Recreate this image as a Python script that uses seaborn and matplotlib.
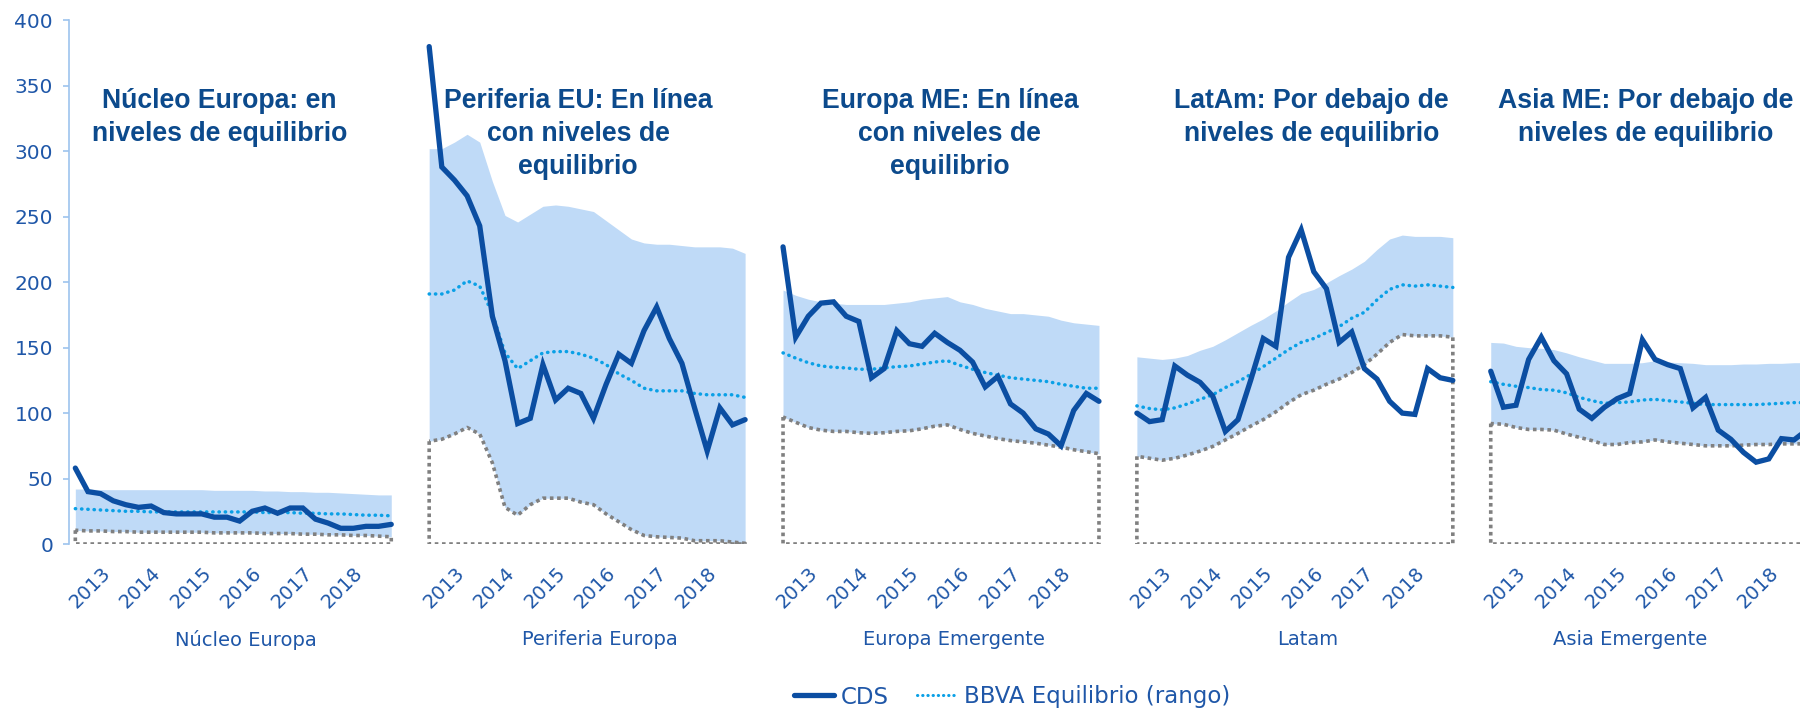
import numpy as np
import pandas as pd
import seaborn as sns
import matplotlib
matplotlib.use("Agg")
import matplotlib.pyplot as plt
from matplotlib.lines import Line2D

# categorias y textos
regions = ["Núcleo Europa", "Periferia Europa", "Europa Emergente", "Latam", "Asia Emergente"]
titles = ["Núcleo Europa: en\nniveles de equilibrio",
          "Periferia EU: En línea\ncon niveles de\nequilibrio",
          "Europa ME: En línea\ncon niveles de\nequilibrio",
          "LatAm: Por debajo de\nniveles de equilibrio",
          "Asia ME: Por debajo de\nniveles de equilibrio"]
years = ["2013", "2014", "2015", "2016", "2017", "2018"]
periods = pd.period_range("2012Q3", "2018Q4", freq="Q").astype(str)

# Nucleo Europa
nucleo_cds = [58, 40, 38.5, 33, 30, 28, 29, 24, 23, 23, 23, 20.5, 20.5, 17.5, 25, 27.5, 23.5, 27.5, 27.5, 19, 16, 12, 12, 13.5, 13.5, 15]
nucleo_eq = [27, 26.5, 26, 25.5, 25, 25, 24.5, 24.5, 24.5, 24.5, 24.5, 24.5, 24.5, 24.5, 24.5, 24, 24, 24, 23.5, 23.5, 23, 23, 22.5, 22, 22, 21.5]
nucleo_lo = [10.5, 10, 10, 9.5, 9.5, 9, 9, 9, 9, 9, 9, 8.5, 8.5, 8.5, 8.5, 8, 8, 8, 7.5, 7.5, 7, 7, 6.5, 6.5, 6, 5.5]
nucleo_hi = [42, 42, 41.5, 41.5, 41.5, 41.5, 41.5, 41.5, 41.5, 41.5, 41.5, 41, 41, 41, 41, 40.5, 40.5, 40, 40, 39.5, 39.5, 39, 38.5, 38, 37.5, 37.5]

# Periferia Europa
periferia_cds = [380, 288, 278, 266, 243, 174, 140, 92, 96, 137, 110, 119, 115, 96, 122, 145, 138, 163, 181, 157, 138, 104, 71, 104, 91, 95]
periferia_eq = [191, 191, 194, 201, 197, 176, 146, 134, 140, 146, 147, 147, 145, 142, 137, 130, 125, 119, 117, 117, 117, 115, 114, 114, 114, 112]
periferia_lo = [78.5, 80, 84, 89, 84, 62, 28, 22, 30, 35, 35, 35, 32, 30, 23, 17, 11, 6.5, 5.5, 5, 4.5, 2.5, 2.5, 2.5, 1.5, 0.5]
periferia_hi = [302, 302, 307, 313, 307, 277, 251, 246, 252, 258, 259, 258, 256, 254, 247, 240, 233, 230, 229, 229, 228, 227, 227, 227, 226, 222]

# Europa Emergente
europa_cds = [227, 158, 174, 184, 185, 174, 170, 127, 134, 163, 153, 151, 161, 154, 148, 139, 120, 128, 107, 100, 88, 84, 75, 102, 115, 109]
europa_eq = [146, 142, 138.5, 136, 135, 134.5, 133.5, 133.5, 134.5, 135.5, 136, 137.5, 139, 140, 136.5, 133.5, 131, 129, 127, 126, 125, 124, 122, 120.5, 119, 119]
europa_lo = [97, 93, 89, 87, 86, 86, 85, 84.5, 85, 86, 86.5, 88, 90, 91, 87.5, 84.5, 82.5, 80.5, 79, 78, 77, 75.5, 74, 72, 70.5, 69]
europa_hi = [194, 190, 187, 185, 184, 183, 183, 183, 183, 184, 185, 187, 188, 189, 185, 183, 180, 178, 176, 176, 175, 174, 171, 169, 168, 167]

# Latam
latam_cds = [100, 93.5, 95, 136, 129, 123.5, 113, 86, 95, 125, 157, 151, 219, 240, 208, 195, 154, 162, 134, 126, 109, 100, 99, 134, 127, 125]
latam_eq = [105.5, 103.5, 102.5, 104, 107, 110.5, 114, 119.5, 124, 129.5, 135.5, 142, 148.5, 154, 157, 161.5, 166, 172.5, 177, 186.5, 194.5, 198, 197, 198, 197, 196]
latam_lo = [67, 65.5, 64, 65.5, 68, 71, 74.5, 79.5, 84.5, 90, 95, 101, 108, 114, 117.5, 122, 126, 131, 137, 145, 154, 160, 159, 159, 159, 158]
latam_hi = [143, 142, 141, 142, 144, 148, 151, 156, 161.5, 167, 172, 178, 185, 191.5, 194.5, 199.5, 205, 210, 216, 225, 233, 236, 235, 235, 235, 234]

# Asia Emergente
asia_cds = [132, 104.5, 106, 141, 158, 140, 130, 103, 96, 104.5, 111, 115, 156, 141, 137, 134, 104, 112, 87, 80, 70, 62.5, 65, 80.5, 79.5, 87]
asia_eq = [124, 122, 120.5, 119.5, 118, 117.5, 115.5, 112, 109.5, 107.5, 108, 108.5, 110, 110.5, 109.5, 108.5, 107.5, 106.5, 106.5, 106.5, 106.5, 106.5, 107, 107.5, 108, 108]
asia_lo = [92, 91.5, 89, 87.5, 87.5, 87, 84, 81.5, 79, 76, 76, 77.5, 78, 79.5, 78, 77, 76, 75, 75, 75, 75.5, 76, 76, 76.5, 76.5, 76.5]
asia_hi = [154, 153.5, 151, 150, 149.5, 148.5, 146, 143, 140.5, 138, 138, 138, 138.5, 140, 139, 138.5, 138, 137, 137, 137, 137.5, 137.5, 138, 138, 138.5, 138.5]

cds = [nucleo_cds, periferia_cds, europa_cds, latam_cds, asia_cds]
eq = [nucleo_eq, periferia_eq, europa_eq, latam_eq, asia_eq]
lo = [nucleo_lo, periferia_lo, europa_lo, latam_lo, asia_lo]
hi = [nucleo_hi, periferia_hi, europa_hi, latam_hi, asia_hi]

# layout
slot = len(periods) + 2          # two empty categories between panels
title_off = [11.4, 11.8, 13.2, 13.8, 12.3]
label_off = [13.5, 13.5, 13.5, 13.5, 11.0]

c_cds = "#0B4EA2"
c_eq = "#0AA0E6"
c_band = "#BFDAF7"
c_grey = "#808080"
c_text = "#1F57A8"
c_title = "#0C4A8C"

frames = []
for i, r in enumerate(regions):
    frames.append(pd.DataFrame({"region": r, "periodo": periods,
                                "pos": np.arange(len(periods)) + i * slot,
                                "cds": cds[i], "eq": eq[i], "lo": lo[i], "hi": hi[i]}))
df = pd.concat(frames, ignore_index=True)

sns.set_theme(style="white")
plt.rcParams["font.family"] = ["DejaVu Sans"]

fig = plt.figure(figsize=(18, 7.08), dpi=100)
# the plot area runs past the right edge of the picture, as in the original
ax = fig.add_axes([69 / 1800, 164 / 708, 1744 / 1800, 523.6 / 708])

for r, g in df.groupby("region", sort=False):
    ax.fill_between(g.pos, g.lo, g.hi, color=c_band, lw=0, zorder=1)
    ax.fill_between(g.pos, 0, g.lo, facecolor="none", edgecolor=c_grey,
                    linestyle=(0, (1, 1)), linewidth=2.6, zorder=2)

sns.lineplot(data=df, x="pos", y="eq", units="region", estimator=None, color=c_eq,
             lw=2.5, linestyle=(0, (0.1, 1.7)), dash_capstyle="round", ax=ax, zorder=3)
sns.lineplot(data=df, x="pos", y="cds", units="region", estimator=None, color=c_cds,
             lw=3.8, solid_joinstyle="miter", ax=ax, zorder=4)

ax.set_xlim(-0.5, len(regions) * slot - 2 - 0.5)
ax.set_ylim(0, 400)
ax.set_yticks(range(0, 401, 50))
ax.tick_params(axis="y", colors="#9DC3EE", labelcolor=c_text, labelsize=14.5,
               length=4.5, width=1.2, pad=7, left=True)

# year ticks at Q1 of each year
ticks, labels = [], []
for i in range(len(regions)):
    for y in years:
        ticks.append(i * slot + list(periods).index(y + "Q1"))
        labels.append(y)
ax.set_xticks(ticks)
ax.set_xticklabels(labels, rotation=45, ha="right", rotation_mode="anchor")
ax.tick_params(axis="x", length=0, pad=14, labelsize=14, labelcolor=c_text)
ax.set_xlabel("")
ax.set_ylabel("")

for s in ["top", "right", "bottom"]:
    ax.spines[s].set_visible(False)
ax.spines["left"].set_color("#9DC3EE")
ax.spines["left"].set_linewidth(1.2)

for i, r in enumerate(regions):
    ax.text(i * slot + title_off[i], 348, titles[i], ha="center", va="top",
            fontsize=19.2, fontweight="bold", color=c_title, family="Liberation Sans",
            linespacing=1.34, multialignment="center")
    ax.text(i * slot + label_off[i], -0.183, r, transform=ax.get_xaxis_transform(),
            ha="center", va="center", fontsize=14, color=c_text, clip_on=False)

handles = [Line2D([], [], color=c_cds, lw=3.8),
           Line2D([], [], color=c_eq, lw=2.2, linestyle=(0, (0.1, 1.6)), dash_capstyle="round")]
fig.legend(handles, ["CDS", "BBVA Equilibrio (rango)"], loc="center",
           bbox_to_anchor=(1012 / 1800, 1 - 697 / 708), ncol=2, frameon=False,
           fontsize=16.5, handlelength=1.75, columnspacing=1.25, handletextpad=0.3,
           labelcolor=c_text)

fig.savefig("out.png", dpi=100)
